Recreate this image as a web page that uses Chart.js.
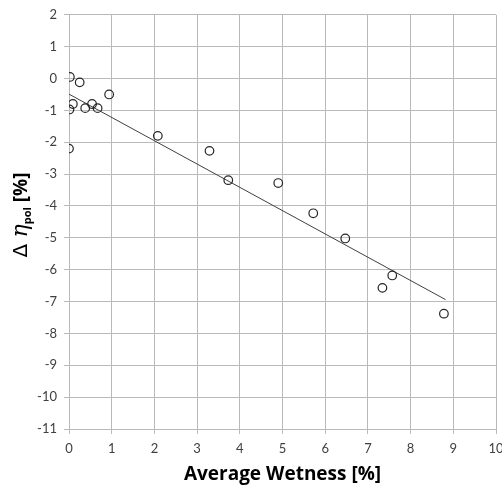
<!DOCTYPE html>
<html>
<head>
<meta charset="utf-8">
<script src="https://cdn.jsdelivr.net/npm/chart.js@4"></script>
<style>
  html, body { margin: 0; padding: 0; background: #fff; }
  #wrap { width: 502px; height: 486px; position: relative; }
</style>
</head>
<body>
<div id="wrap"><canvas id="chartWet"></canvas></div>
<script>
// measured points: average wetness [%] vs delta eta_pol [%]
const wetness = [0.02, 0.25, 0.01, 0.09, 0.38, 0.54, 0.67, 0.94, 0.00, 2.08, 3.29, 3.73, 4.90, 5.72, 6.47, 7.57, 7.34, 8.78];
const deltaEta = [0.05, -0.12, -0.97, -0.80, -0.93, -0.80, -0.93, -0.50, -2.20, -1.80, -2.27, -3.19, -3.28, -4.23, -5.02, -6.18, -6.57, -7.38];

// linear trend line (start / end)
const trendX = [0, 8.82];
const trendY = [-0.49, -6.94];

const xTicks = [0, 1, 2, 3, 4, 5, 6, 7, 8, 9, 10];
const yTicks = [2, 1, 0, -1, -2, -3, -4, -5, -6, -7, -8, -9, -10, -11];

const FONT = 'Lato, "Open Sans", sans-serif';
const BOLD = '"Open Sans", sans-serif';
const GRID = '#bababa';
const TXT = '#404040';

// y title with greek + subscript, drawn on the canvas
const yTitlePlugin = {
    id: 'yTitle',
    afterDraw(chart) {
        const c = chart.ctx;
        const parts = [
            { t: 'Δ ', f: '20px "DejaVu Sans", sans-serif', dy: 0 },
            { t: 'η', f: 'italic 22px "DejaVu Serif", serif', dy: 0 },
            { t: 'pol', f: 'bold 11px ' + BOLD, dy: 4 },
            { t: ' [%]', f: 'bold 19px ' + BOLD, dy: 0 }
        ];
        c.save();
        let total = 0;
        parts.forEach(p => { c.font = p.f; p.w = c.measureText(p.t).width; total += p.w; });
        c.translate(27, 215);
        c.rotate(-Math.PI / 2);
        c.fillStyle = '#000';
        c.textBaseline = 'alphabetic';
        let x = -total / 2;
        parts.forEach(p => {
            c.font = p.f;
            c.fillText(p.t, x, p.dy);
            x += p.w;
        });
        c.restore();
    }
};

const pts = wetness.map((x, i) => ({ x: x, y: deltaEta[i] }));
const trend = trendX.map((x, i) => ({ x: x, y: trendY[i] }));

new Chart(document.getElementById('chartWet'), {
    type: 'scatter',
    data: {
        datasets: [{
            data: pts,
            pointRadius: 4.3,
            pointBorderWidth: 1.2,
            pointBackgroundColor: 'rgba(0,0,0,0)',
            pointBorderColor: '#262626',
            showLine: false
        }, {
            data: trend,
            showLine: true,
            pointRadius: 0,
            borderColor: '#404040',
            borderWidth: 1,
            fill: false
        }]
    },
    options: {
        responsive: true,
        maintainAspectRatio: false,
        animation: false,
        layout: { padding: { top: 13, right: 6, left: 0, bottom: 0 } },
        plugins: {
            legend: { display: false },
            tooltip: { enabled: false }
        },
        scales: {
            x: {
                type: 'linear',
                min: 0,
                max: 10,
                afterBuildTicks: s => { s.ticks = xTicks.map(v => ({ value: v })); },
                afterFit: s => { s.height = 57; s.paddingRight = 0; s.paddingLeft = 0; },
                grid: { color: GRID, lineWidth: 1, tickLength: 5, drawTicks: true },
                border: { color: GRID },
                ticks: { color: TXT, font: { family: FONT, size: 13 }, padding: 7 },
                title: {
                    display: true,
                    text: 'Average Wetness [%]',
                    color: '#000',
                    font: { family: BOLD, size: 19, weight: 'bold' },
                    padding: { top: 0, bottom: 0 }
                }
            },
            y: {
                min: -11,
                max: 2,
                afterBuildTicks: s => { s.ticks = yTicks.map(v => ({ value: v })); },
                afterFit: s => { s.width = 69; },
                grid: { color: GRID, lineWidth: 1, tickLength: 5, drawTicks: true },
                border: { color: GRID },
                ticks: { color: TXT, font: { family: FONT, size: 13 }, padding: 7 }
            }
        }
    },
    plugins: [yTitlePlugin]
});
</script>
</body>
</html>
